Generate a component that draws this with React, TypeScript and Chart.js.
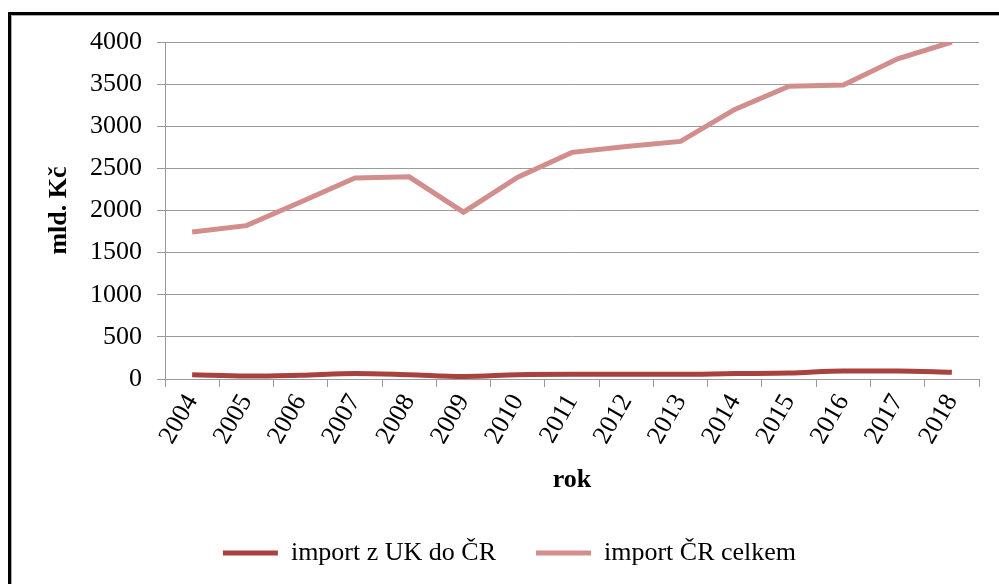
import { useEffect, useRef } from "react";
import { Chart, registerables } from "chart.js";

Chart.register(...registerables);

const years = ["2004", "2005", "2006", "2007", "2008", "2009", "2010", "2011", "2012", "2013", "2014", "2015", "2016", "2017", "2018"];
const importUK = [50, 35, 45, 65, 50, 30, 50, 55, 55, 55, 65, 70, 95, 95, 80];
const importTotal = [1745, 1820, 2100, 2385, 2400, 1980, 2395, 2690, 2760, 2820, 3200, 3475, 3490, 3800, 4000];
const yMin = 0;
const yMax = 4000;
const yStep = 500;

const seriesNames = ["import z UK do ČR", "import ČR celkem"];
const axisTitleY = "mld. Kč";
const axisTitleX = "rok";

const FONT = "'Liberation Serif', 'Times New Roman', serif";

export default function App() {
  const ref = useRef<HTMLCanvasElement | null>(null);

  useEffect(() => {
    if (!ref.current) return;
    const chart = new Chart(ref.current, {
      type: "line",
      data: {
        labels: years,
        datasets: [
          {
            label: seriesNames[0],
            data: importUK,
            borderColor: "#A8423F",
            backgroundColor: "#A8423F",
            borderWidth: 5,
            pointRadius: 0,
            tension: 0.4,
            cubicInterpolationMode: "monotone",
          },
          {
            label: seriesNames[1],
            data: importTotal,
            borderColor: "#D18E8D",
            backgroundColor: "#D18E8D",
            borderWidth: 5,
            pointRadius: 0,
            tension: 0,
          },
        ],
      },
      options: {
        animation: false,
        responsive: false,
        maintainAspectRatio: false,
        layout: { padding: { left: 40, right: 20, top: 42, bottom: 8 } },
        plugins: {
          tooltip: { enabled: false },
          legend: {
            position: "bottom",
            labels: {
              font: { family: FONT, size: 26 },
              color: "#000",
              usePointStyle: true,
              pointStyle: "line",
              pointStyleWidth: 55,
              padding: 40,
            },
          },
        },
        scales: {
          x: {
            type: "category",
            offset: true,
            grid: { drawOnChartArea: false, color: "#9a9a9a", tickLength: 8, offset: true },
            border: { color: "#9a9a9a" },
            ticks: {
              font: { family: FONT, size: 26 },
              color: "#000",
              minRotation: 60,
              maxRotation: 60,
              padding: 2,
            },
            title: {
              display: true,
              text: axisTitleX,
              font: { family: FONT, size: 26, weight: "bold" },
              color: "#000",
              padding: { top: 4, bottom: 4 },
            },
            afterFit: (s: any) => {
              s.height = 121;
            },
          },
          y: {
            min: yMin,
            max: yMax,
            grid: { color: "#9a9a9a", tickLength: 8 },
            border: { color: "#9a9a9a" },
            ticks: {
              stepSize: yStep,
              font: { family: FONT, size: 26 },
              color: "#000",
              padding: 15,
              callback: (v: any) => String(v),
            },
            title: {
              display: true,
              text: axisTitleY,
              font: { family: FONT, size: 26, weight: "bold" },
              color: "#000",
              padding: { top: 4, bottom: 4 },
            },
            afterFit: (s: any) => {
              s.width = 125;
            },
          },
        },
      },
    });
    return () => chart.destroy();
  }, []);

  return (
    <div style={{ position: "fixed", left: 0, top: 0, width: 999, height: 584, background: "#fff", overflow: "hidden" }}>
      <div
        style={{
          position: "absolute",
          left: 8,
          top: 12,
          width: 1200,
          height: 900,
          borderLeft: "3px solid #000",
          borderTop: "3px solid #000",
        }}
      >
        <div
          style={{
            position: "absolute",
            left: 0,
            top: 0,
            right: 0,
            bottom: 0,
            borderLeft: "1px solid #aaa",
            borderTop: "1px solid #aaa",
          }}
        />
      </div>
      <canvas ref={ref} width={999} height={584} style={{ position: "absolute", left: 0, top: 0, width: 999, height: 584 }} />
    </div>
  );
}
